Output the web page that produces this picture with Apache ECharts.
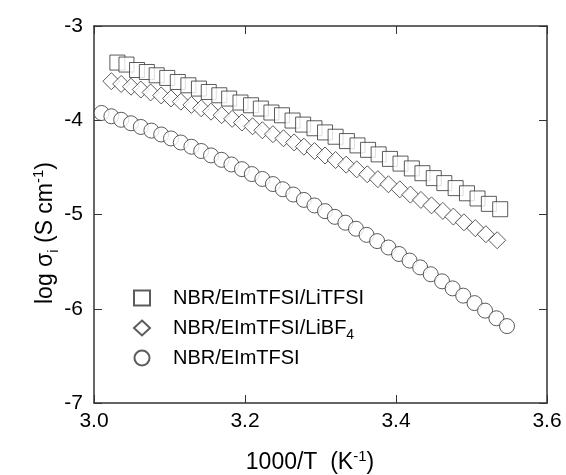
<!DOCTYPE html>
<html>
<head>
<meta charset="utf-8">
<script src="https://cdn.jsdelivr.net/npm/echarts@6/dist/echarts.min.js"></script>
<style>
html,body{margin:0;padding:0;background:#fff;}
#c{width:566px;height:475px;}
</style>
</head>
<body>
<div id="c"></div>
<script>
// ---- data ----
const seriesNames = ['NBR/EImTFSI/LiTFSI', 'NBR/EImTFSI/LiBF4', 'NBR/EImTFSI'];

const sqX = [3.031,3.043,3.057,3.070,3.083,3.097,3.111,3.125,3.139,3.152,3.166,3.179,3.194,3.208,3.221,3.235,3.249,3.263,3.277,
             3.292,3.306,3.320,3.335,3.349,3.363,3.377,3.392,3.406,3.421,3.435,3.450,3.464,3.479,3.494,3.508,3.523,3.538];
const sqY = [-3.388,-3.409,-3.467,-3.488,-3.523,-3.551,-3.594,-3.629,-3.664,-3.700,-3.735,-3.770,-3.812,-3.841,-3.876,-3.918,-3.947,-4.003,-4.046,
             -4.085,-4.129,-4.175,-4.221,-4.267,-4.314,-4.362,-4.410,-4.460,-4.511,-4.562,-4.614,-4.667,-4.720,-4.775,-4.830,-4.887,-4.944];

const diaX = [3.023,3.036,3.049,3.062,3.075,3.089,3.102,3.115,3.129,3.142,3.155,3.169,3.183,3.196,3.210,3.223,3.237,3.251,3.265,
              3.278,3.292,3.306,3.320,3.334,3.348,3.362,3.376,3.390,3.405,3.419,3.433,3.447,3.462,3.476,3.490,3.505,3.519,3.534];
const diaY = [-3.586,-3.615,-3.644,-3.674,-3.705,-3.737,-3.769,-3.803,-3.837,-3.873,-3.909,-3.946,-3.985,-4.024,-4.064,-4.106,-4.148,-4.191,-4.235,
              -4.280,-4.327,-4.374,-4.422,-4.471,-4.521,-4.573,-4.625,-4.679,-4.733,-4.789,-4.845,-4.903,-4.962,-5.022,-5.083,-5.145,-5.209,-5.273];

const cirX = [3.010,3.023,3.036,3.049,3.062,3.076,3.089,3.102,3.115,3.129,3.142,3.155,3.169,3.182,3.196,3.209,3.223,3.237,3.250,3.264,
              3.278,3.292,3.306,3.319,3.333,3.347,3.361,3.375,3.390,3.404,3.418,3.432,3.446,3.461,3.475,3.489,3.504,3.518,3.533,3.547];
const cirY = [-3.923,-3.958,-3.995,-4.032,-4.071,-4.110,-4.151,-4.193,-4.236,-4.281,-4.326,-4.373,-4.420,-4.469,-4.519,-4.571,-4.623,-4.677,-4.732,-4.788,
              -4.845,-4.904,-4.964,-5.025,-5.087,-5.151,-5.216,-5.282,-5.350,-5.419,-5.489,-5.561,-5.634,-5.709,-5.784,-5.861,-5.940,-6.020,-6.101,-6.184];

const xTicks = [3.0, 3.2, 3.4, 3.6];
const yTicks = [-7, -6, -5, -4, -3];

// ---- chart ----
const FONT = '"Liberation Sans", Arial, Helvetica, sans-serif';
const pair = (xs, ys) => xs.map((x, i) => [x, ys[i]]);
const chart = echarts.init(document.getElementById('c'), null, {renderer: 'canvas'});

const axisCommon = {
  type: 'value',
  axisLine: {show: true, onZero: false, lineStyle: {color: '#333', width: 1.5}},
  axisTick: {show: true, inside: true, length: 8, lineStyle: {color: '#333', width: 1}},
  splitLine: {show: false}
};

const markerStyle = {color: '#fff', borderColor: '#333', borderWidth: 1};

chart.setOption({
  animation: false,
  backgroundColor: '#fff',
  grid: {left: 94, right: 19, top: 26, bottom: 72, containLabel: false},
  xAxis: [
    Object.assign({}, axisCommon, {
      position: 'bottom', min: xTicks[0], max: xTicks[xTicks.length - 1], interval: 0.2,
      axisLabel: {show: true, margin: 8, color: '#000', fontSize: 21, fontFamily: FONT,
                  formatter: v => v.toFixed(1)}
    }),
    Object.assign({}, axisCommon, {
      position: 'top', min: xTicks[0], max: xTicks[xTicks.length - 1], interval: 0.2,
      axisLabel: {show: false}
    })
  ],
  yAxis: [
    Object.assign({}, axisCommon, {
      position: 'left', min: yTicks[0], max: yTicks[yTicks.length - 1], interval: 1,
      axisLabel: {show: true, margin: 11, color: '#000', fontSize: 21, fontFamily: FONT,
                  formatter: v => String(v)}
    }),
    Object.assign({}, axisCommon, {
      position: 'right', min: yTicks[0], max: yTicks[yTicks.length - 1], interval: 1,
      axisLabel: {show: false}
    })
  ],
  legend: {
    orient: 'vertical', left: 133, top: 284, padding: 0,
    itemWidth: 16, itemHeight: 15, itemGap: 2,
    data: seriesNames,
    textStyle: {color: '#000', fontSize: 20, fontFamily: FONT, padding: [0, 0, 0, 18], lineHeight: 28,
      rich: {
        n: {fontSize: 20, fontFamily: FONT, color: '#000', lineHeight: 28},
        s: {fontSize: 14, fontFamily: FONT, color: '#000', verticalAlign: 'bottom', lineHeight: 17}
      }
    },
    formatter: name => name === 'NBR/EImTFSI/LiBF4' ? '{n|NBR/EImTFSI/LiBF}{s|4}' : name
  },
  series: [
    {name: seriesNames[0], type: 'scatter', symbol: 'rect', symbolSize: 15,
     itemStyle: markerStyle, data: pair(sqX, sqY)},
    {name: seriesNames[1], type: 'scatter', symbol: 'diamond', symbolSize: 17,
     itemStyle: markerStyle, data: pair(diaX, diaY)},
    {name: seriesNames[2], type: 'scatter', symbol: 'circle', symbolSize: 15,
     itemStyle: markerStyle, data: pair(cirX, cirY)}
  ],
  graphic: [
    {type: 'text', x: 310, y: 463,
     style: {text: '{t|1000/T  (K}{sup|-1}{t|)}', fill: '#000', align: 'center', verticalAlign: 'middle',
       rich: {t: {fontSize: 23, fontFamily: FONT, fill: '#000', lineHeight: 28},
              sup: {fontSize: 15, fontFamily: FONT, fill: '#000', verticalAlign: 'top', lineHeight: 16}}}},
    {type: 'text', x: 46, y: 233, rotation: Math.PI / 2,
     style: {text: '{t|log }{g|σ}{sub|i}{t| (S cm}{sup|-1}{t|)}', fill: '#000', align: 'center', verticalAlign: 'middle',
       rich: {t: {fontSize: 23, fontFamily: FONT, fill: '#000', lineHeight: 30},
              g: {fontSize: 23, fontFamily: FONT, fill: '#000', lineHeight: 30},
              sub: {fontSize: 15, fontFamily: FONT, fill: '#000', verticalAlign: 'bottom', lineHeight: 20},
              sup: {fontSize: 15, fontFamily: FONT, fill: '#000', verticalAlign: 'top', lineHeight: 20}}}}
  ]
});
</script>
</body>
</html>
